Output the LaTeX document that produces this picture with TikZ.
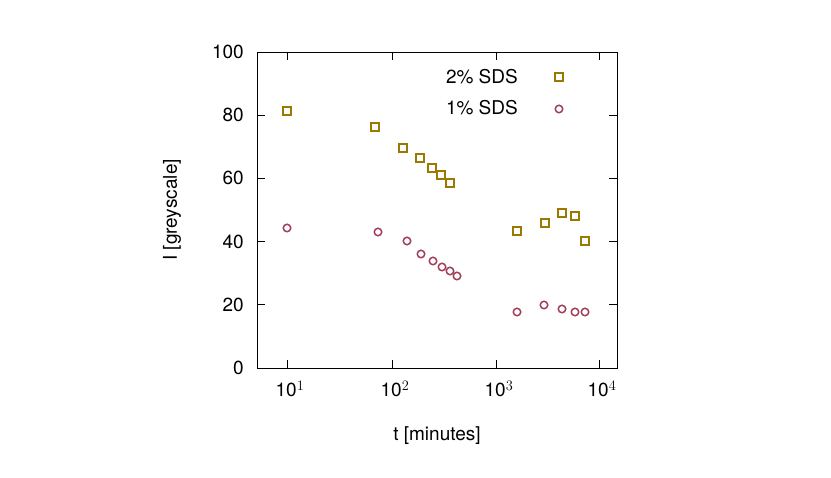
\documentclass[tikz,border=0pt]{standalone}
\usepackage{fontspec}
\setmainfont{TeX Gyre Heros}
\definecolor{sq}{RGB}{155,120,0}
\definecolor{ci}{RGB}{160,64,90}
\begin{document}
\begin{tikzpicture}[x=1pt,y=-1pt,
  sqm/.style={draw=sq,line width=1.5pt,minimum size=8pt,inner sep=0pt,rectangle},
  cim/.style={draw=ci,line width=1.5pt,minimum size=7.5pt,inner sep=0pt,circle},
  lab/.style={font=\fontsize{19}{22}\selectfont,inner sep=0pt}]
\useasboundingbox (0,0) rectangle (831,478);
\draw[line width=0.8pt] (257,52) rectangle (617,368);
% y ticks
\foreach \v in {0,20,40,60,80,100}{
  \pgfmathsetmacro{\yy}{368-3.16*\v}
  \draw[line width=0.8pt] (257,\yy) -- (265,\yy) (617,\yy) -- (609,\yy);
  \node[lab,anchor=east] (y\v) at (244,\yy) {\v};
}
% x ticks
\foreach \e/\xx in {1/287,2/392,3/496,4/599}{
  \draw[line width=0.8pt] (\xx,368) -- (\xx,360) (\xx,52) -- (\xx,60);
  \node[lab] (x\e) at (\xx+3,389) {10$^{\e}$};
}
\node[lab,rotate=90] (ylab) at (172,210) {I [greyscale]};
\node[lab] (xlab) at (437,436) {t [minutes]};
\node[lab,anchor=east] (l2) at (518,77) {2\% SDS};
\node[lab,anchor=east] (l1) at (518,108) {1\% SDS};
\node[sqm] (k2) at (559,77) {};
\node[cim] (k1) at (559,109) {};
\foreach \px/\py [count=\i] in {287/111,375/127,403/148,420/158,432/168,441/175,450/183,517/231,545/223,562/213,575/216,585/241}
  \node[sqm] (s\i) at (\px,\py) {};
\foreach \px/\py [count=\i] in {287/228,378/232,407/241,421/254,433/261,442/267,450/271,457/276,517/312,544/305,562/309,575/312,585/312}
  \node[cim] (c\i) at (\px,\py) {};
\end{tikzpicture}
\end{document}
